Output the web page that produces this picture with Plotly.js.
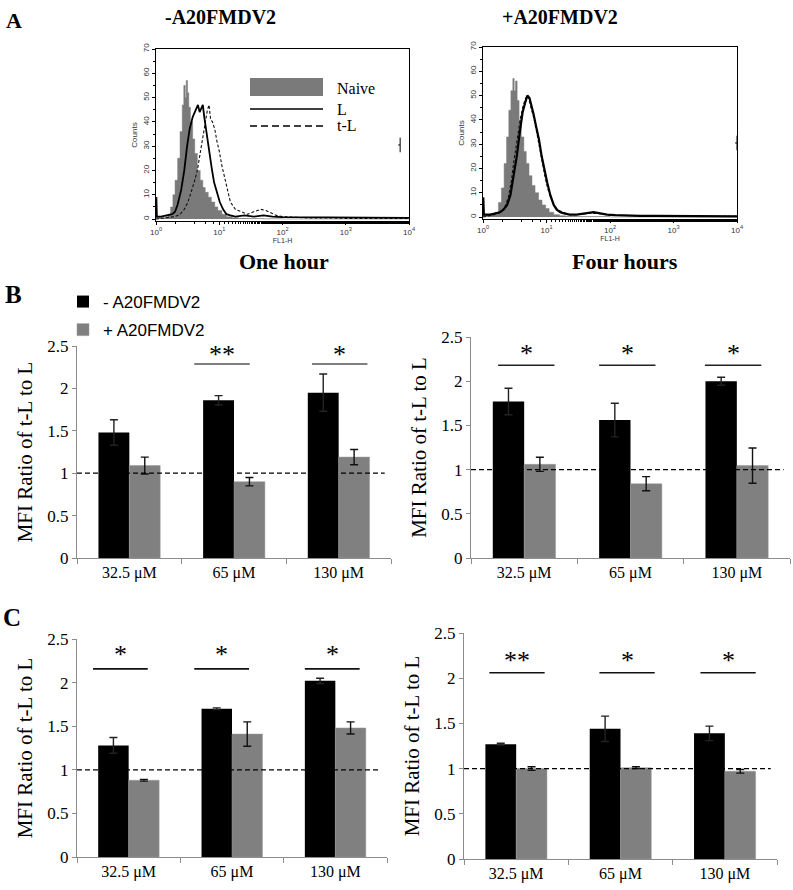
<!DOCTYPE html>
<html><head><meta charset="utf-8">
<script src="https://cdn.plot.ly/plotly-3.0.1.min.js"></script>
<style>html,body{margin:0;padding:0;background:#fff}#chart{width:793px;height:890px}</style>
</head><body><div id="chart"></div>
<script>
// ---------- Panel A: flow cytometry histograms (FL1-H vs Counts) ----------
// One hour
const h1NaiveX = [1, 1.05, 1.2, 1.4, 1.55, 1.7, 1.85, 2.0, 2.2, 2.4, 2.6, 2.75, 2.9, 3.0, 3.15, 3.3, 3.5, 3.8, 4.1, 4.5, 5.0, 5.5, 6.0, 6.7, 7.5, 8.5, 9.5, 11, 13, 16, 20, 30, 50, 100, 1000, 10000];
const h1NaiveY = [9, 1, 0.5, 1, 2, 5, 10, 16, 25, 36, 47, 55, 50, 57, 52, 46, 40, 33, 27, 20, 16, 13, 11, 9, 7, 5, 3.5, 2, 1, 0.5, 0.3, 0.2, 0.1, 0, 0, 0];
const h1LX = [1, 1.03, 1.2, 1.5, 1.8, 2.0, 2.2, 2.5, 2.8, 3.1, 3.4, 3.8, 4.2, 4.6, 4.9, 5.2, 5.5, 5.8, 6.1, 6.5, 7.0, 7.6, 8.3, 9.2, 10.2, 11.5, 13, 15, 18, 25, 35, 50, 70, 100, 150, 250, 500, 1000, 3000, 10000];
const h1LY = [9, 1, 1, 1.5, 2, 3, 6, 12, 20, 30, 37, 42, 45, 47, 44, 46, 47, 42, 38, 32, 27, 21, 15, 11, 7, 4, 2, 1.5, 1, 1.5, 1, 1.5, 1, 0.8, 0.8, 0.5, 0.5, 0.5, 0.5, 0.5];
const h1tLX = [1, 1.5, 2.0, 2.4, 2.8, 3.2, 3.6, 4.0, 4.5, 5.0, 5.5, 6.0, 6.5, 6.9, 7.3, 7.8, 8.5, 9.2, 10, 11, 12, 13.5, 15, 18, 22, 28, 35, 45, 55, 65, 80, 100, 150, 250, 500, 1000, 3000, 10000];
const h1tLY = [0, 0.5, 1, 2, 4, 7, 11, 15, 20, 27, 33, 40, 45, 47, 41, 40, 37, 32, 28, 22, 18, 12, 7, 4, 3, 2, 3, 4, 3.5, 2.5, 1.5, 1, 0.8, 0.5, 0.5, 0.3, 0.3, 0.3];
// Four hours
const h2NaiveX = [1, 1.05, 1.3, 1.55, 1.75, 1.95, 2.15, 2.35, 2.55, 2.75, 2.95, 3.1, 3.25, 3.45, 3.7, 4.0, 4.4, 4.8, 5.3, 5.9, 6.6, 7.5, 8.5, 9.7, 11, 13, 16, 20, 30, 100, 10000];
const h2NaiveY = [8, 1, 1, 2, 6, 12, 22, 33, 44, 52, 57, 52, 56, 48, 40, 33, 27, 22, 17, 13, 10, 7, 5, 3.5, 2, 1, 0.5, 0.3, 0.2, 0, 0];
const h2LX = [1, 1.03, 1.3, 1.6, 1.85, 2.1, 2.4, 2.7, 3.0, 3.4, 3.8, 4.2, 4.6, 5.0, 5.4, 5.8, 6.3, 6.9, 7.6, 8.4, 9.3, 10.3, 11.5, 13, 14.5, 16.5, 19, 23, 30, 40, 55, 70, 90, 120, 200, 300, 500, 1000, 2000, 10000];
const h2LY = [8, 1, 1, 1.5, 2, 3, 5, 9, 16, 25, 35, 43, 47, 50, 49, 46, 42, 37, 32, 25, 19, 14, 9, 5, 3, 2, 1.5, 1, 1, 1.5, 2, 1.5, 1, 0.8, 0.5, 0.5, 0.5, 0.5, 0.3, 0.3];
const h2tLX = [1, 1.5, 1.9, 2.2, 2.5, 2.8, 3.1, 3.5, 3.9, 4.3, 4.7, 5.1, 5.5, 5.9, 6.4, 7.0, 7.7, 8.5, 9.4, 10.4, 11.6, 13, 15, 18, 23, 30, 45, 65, 100, 300, 1000, 10000];
const h2tLY = [0, 1, 2, 4, 8, 15, 24, 33, 41, 46, 49, 50, 47, 44, 40, 35, 29, 23, 17, 12, 8, 5, 3, 2, 1, 1, 1.5, 1.5, 0.8, 0.5, 0.3, 0.3];
const histTickVals = [1, 10, 100, 1000, 10000];
const histTickText = ['10<sup>0</sup>', '10<sup>1</sup>', '10<sup>2</sup>', '10<sup>3</sup>', '10<sup>4</sup>'];

// ---------- Panels B & C: MFI ratio of t-L to L ----------
const concLabels = ['32.5 μM', '65 μM', '130 μM'];
const seriesNames = ['- A20FMDV2', '+ A20FMDV2'];
// B left (one hour)
const bLeftMinus = [1.48, 1.86, 1.95], bLeftMinusErr = [0.15, 0.055, 0.22];
const bLeftPlus  = [1.09, 0.90, 1.19], bLeftPlusErr  = [0.10, 0.05, 0.09];
const bLeftSig   = ['', '**', '*'];
// B right (four hours)
const bRightMinus = [1.77, 1.56, 2.00], bRightMinusErr = [0.15, 0.19, 0.045];
const bRightPlus  = [1.06, 0.84, 1.045], bRightPlusErr = [0.08, 0.08, 0.20];
const bRightSig   = ['*', '*', '*'];
// C left
const cLeftMinus = [1.28, 1.70, 2.02], cLeftMinusErr = [0.09, 0.01, 0.03];
const cLeftPlus  = [0.88, 1.41, 1.48], cLeftPlusErr  = [0.01, 0.14, 0.07];
const cLeftSig   = ['*', '*', '*'];
// C right
const cRightMinus = [1.27, 1.44, 1.39], cRightMinusErr = [0.01, 0.14, 0.08];
const cRightPlus  = [1.00, 1.01, 0.97], cRightPlusErr  = [0.02, 0.01, 0.02];
const cRightSig   = ['**', '*', '*'];
const refLevel = 1;

// ---------- build ----------
const W = 793, H = 890;
const px = v => v / W, py = v => 1 - v / H;
const SERIF = "'Liberation Serif', 'Times New Roman', serif";
const SANS = "'Liberation Sans', Arial, sans-serif";
const BLACK = '#000000', GREY = '#808080';

const traces = [];
function histTraces(xa, ya, nx, ny, lx, ly, tx, ty, lw) {
  traces.push({type: 'scatter', mode: 'lines', x: nx, y: ny, xaxis: xa, yaxis: ya, fill: 'tozeroy',
    fillcolor: '#7a7a7a', line: {color: '#7a7a7a', width: 0.5, shape: 'hv'}, name: 'Naive', showlegend: false, hoverinfo: 'skip'});
  traces.push({type: 'scatter', mode: 'lines', x: tx, y: ty, xaxis: xa, yaxis: ya,
    line: {color: '#111', width: 1.1, dash: '3px,2px'}, name: 't-L', showlegend: false});
  traces.push({type: 'scatter', mode: 'lines', x: lx, y: ly, xaxis: xa, yaxis: ya,
    line: {color: '#000', width: lw}, name: 'L', showlegend: false});
}
histTraces('x', 'y', h1NaiveX, h1NaiveY, h1LX, h1LY, h1tLX, h1tLY, 1.8);
histTraces('x2', 'y2', h2NaiveX, h2NaiveY, h2LX, h2LY, h2tLX, h2tLY, 2.2);

function barTraces(xa, ya, minus, minusErr, plus, plusErr, legend) {
  traces.push({type: 'bar', x: concLabels, y: minus, xaxis: xa, yaxis: ya, name: seriesNames[0],
    marker: {color: BLACK}, showlegend: legend, legendgroup: 'm',
    error_y: {type: 'data', array: minusErr, visible: true, color: '#222', thickness: 1.4, width: 4}});
  traces.push({type: 'bar', x: concLabels, y: plus, xaxis: xa, yaxis: ya, name: seriesNames[1],
    marker: {color: GREY, line: {color: '#999', width: 0.5}}, showlegend: legend, legendgroup: 'p',
    error_y: {type: 'data', array: plusErr, visible: true, color: '#111', thickness: 1.4, width: 4}});
}
barTraces('x3', 'y3', bLeftMinus, bLeftMinusErr, bLeftPlus, bLeftPlusErr, true);
barTraces('x4', 'y4', bRightMinus, bRightMinusErr, bRightPlus, bRightPlusErr, false);
barTraces('x5', 'y5', cLeftMinus, cLeftMinusErr, cLeftPlus, cLeftPlusErr, false);
barTraces('x6', 'y6', cRightMinus, cRightMinusErr, cRightPlus, cRightPlusErr, false);

function histX(dom, anchor) {
  return {domain: dom, anchor: anchor, type: 'log', range: [0, 4], showline: true, mirror: true,
    linecolor: '#000', linewidth: 1, ticks: 'outside', ticklen: 3, tickcolor: '#000',
    tickvals: histTickVals, ticktext: histTickText, tickfont: {family: SANS, size: 8, color: '#333'},
    minor: {ticks: 'outside', ticklen: 2, tickcolor: '#000', showgrid: false},
    showgrid: false, zeroline: false,
    title: {text: 'FL1-H', font: {family: SANS, size: 7, color: '#333'}, standoff: 0}};
}
function histY(dom, anchor) {
  return {domain: dom, anchor: anchor, range: [-0.8, 70], dtick: 10, showline: true, mirror: true,
    linecolor: '#000', linewidth: 1, ticks: 'outside', ticklen: 3, tickcolor: '#000', tickangle: -90,
    tickfont: {family: SANS, size: 8, color: '#333'}, showgrid: false, zeroline: false,
    minor: {ticks: 'outside', ticklen: 2, dtick: 5, tickcolor: '#000'},
    title: {text: 'Counts', font: {family: SANS, size: 8, color: '#333'}, standoff: 2}};
}
function barX(dom, anchor) {
  return {domain: dom, anchor: anchor, type: 'category', showline: true, linecolor: '#8c8c8c', linewidth: 1,
    ticks: 'outside', tickson: 'boundaries', ticklen: 5, tickcolor: '#8c8c8c', showgrid: false, zeroline: false,
    tickfont: {family: SERIF, size: 16, color: '#000'}, range: [-0.5, 2.5]};
}
function barY(dom, anchor) {
  return {domain: dom, anchor: anchor, range: [0, 2.5], dtick: 0.5, showline: true, linecolor: '#8c8c8c',
    linewidth: 1, ticks: 'outside', ticklen: 4, tickcolor: '#8c8c8c', showgrid: false, zeroline: false,
    tickfont: {family: SERIF, size: 17, color: '#000'},
    title: {text: 'MFI Ratio of t-L to L', font: {family: SERIF, size: 21, color: '#000'}, standoff: 8}};
}

const layout = {
  width: W, height: H, margin: {l: 0, r: 0, t: 0, b: 0}, paper_bgcolor: '#fff', plot_bgcolor: 'rgba(0,0,0,0)',
  barmode: 'group', bargap: 0.41, bargroupgap: 0,
  xaxis: histX([px(156), px(409)], 'y'), yaxis: histY([py(221), py(49)], 'x'),
  xaxis2: histX([px(483), px(737)], 'y2'), yaxis2: histY([py(219), py(47)], 'x2'),
  xaxis3: barX([px(77), px(391)], 'y3'), yaxis3: barY([py(558), py(346)], 'x3'),
  xaxis4: barX([px(471), px(790)], 'y4'), yaxis4: barY([py(558), py(337)], 'x4'),
  xaxis5: barX([px(77), px(387)], 'y5'), yaxis5: barY([py(857), py(639)], 'x5'),
  xaxis6: barX([px(464), px(777)], 'y6'), yaxis6: barY([py(859), py(633)], 'x6'),
  showlegend: true,
  legend: {x: px(63), y: py(284), xanchor: 'left', yanchor: 'top', bgcolor: 'rgba(0,0,0,0)',
    font: {family: SANS, size: 17, color: '#000'}, traceorder: 'grouped', tracegroupgap: 3, itemwidth: 30},
  shapes: [], annotations: []
};

// reference dashed line at ratio = 1
['3', '4', '5', '6'].forEach(k => {
  layout.shapes.push({type: 'line', xref: 'x' + k + ' domain', yref: 'y' + k, x0: 0, x1: 0.98, y0: refLevel, y1: refLevel,
    line: {color: '#000', width: 1.2, dash: '5px,3px'}});
});

// significance bars
function sig(k, labels, centers, lineY, lineColor, shift) {
  labels.forEach((s, i) => {
    if (!s) return;
    const c = centers[i];
    layout.shapes.push({type: 'line', xref: 'x' + k, yref: 'y' + k, x0: c - 0.265, x1: c + 0.265, y0: lineY, y1: lineY,
      line: {color: lineColor, width: 1.6}});
    layout.annotations.push({xref: 'x' + k, yref: 'y' + k, x: c, y: lineY, text: s, showarrow: false,
      yanchor: 'bottom', yshift: shift, font: {family: SERIF, size: 26, color: '#000'}});
  });
}
sig('3', bLeftSig, [0, 0.885, 2.01], 2.287, '#555', -7);
sig('4', bRightSig, [0.02, 0.97, 1.965], 2.18, '#222', -5);
sig('5', cLeftSig, [-0.08, 0.90, 1.97], 2.157, '#111', -2);
sig('6', cRightSig, [0.008, 1.063, 2.031], 2.06, '#111', -4);

// histogram gate markers
[['x', 'y', 3.86], ['x2', 'y2', 4]].forEach(([xa, ya, lx]) => {
  layout.shapes.push({type: 'line', xref: xa, yref: ya, x0: Math.pow(10, lx), x1: Math.pow(10, lx), y0: 27.5, y1: 33.5, line: {color: '#000', width: 1}});
  layout.shapes.push({type: 'line', xref: xa, yref: ya, x0: Math.pow(10, lx - 0.03), x1: Math.pow(10, lx), y0: 30.5, y1: 30.5, line: {color: '#000', width: 1}});
});

// histogram legend (Naive / L / t-L)
layout.shapes.push({type: 'rect', xref: 'paper', yref: 'paper', x0: px(250), x1: px(323), y0: py(96), y1: py(78),
  fillcolor: '#7a7a7a', line: {width: 0}});
layout.shapes.push({type: 'line', xref: 'paper', yref: 'paper', x0: px(250), x1: px(323), y0: py(109), y1: py(109),
  line: {color: '#000', width: 1.3}});
layout.shapes.push({type: 'line', xref: 'paper', yref: 'paper', x0: px(250), x1: px(323), y0: py(126), y1: py(126),
  line: {color: '#000', width: 1.5, dash: '7px,4px'}});
[['Naive', 88], ['L', 109], ['t-L', 126]].forEach(([t, y]) => {
  layout.annotations.push({xref: 'paper', yref: 'paper', x: px(335), y: py(y), xanchor: 'left', yanchor: 'middle',
    text: t, showarrow: false, font: {family: SERIF, size: 16, color: '#000'}});
});

// titles & panel letters
const txt = (t, x, y, size, anchor) => layout.annotations.push({xref: 'paper', yref: 'paper', x: px(x), y: py(y),
  xanchor: anchor || 'center', yanchor: 'middle', text: '<b>' + t + '</b>', showarrow: false,
  font: {family: SERIF, size: size, color: '#000'}});
txt('-A20FMDV2', 221, 17, 20);
txt('+A20FMDV2', 560, 17, 20);
txt('One hour', 284, 261, 22);
txt('Four hours', 625, 261, 22);
txt('A', 14, 20, 22);
txt('B', 13, 294, 25);
txt('C', 12, 617, 25);

Plotly.newPlot('chart', traces, layout, {staticPlot: true, displayModeBar: false});
</script>
</body></html>
